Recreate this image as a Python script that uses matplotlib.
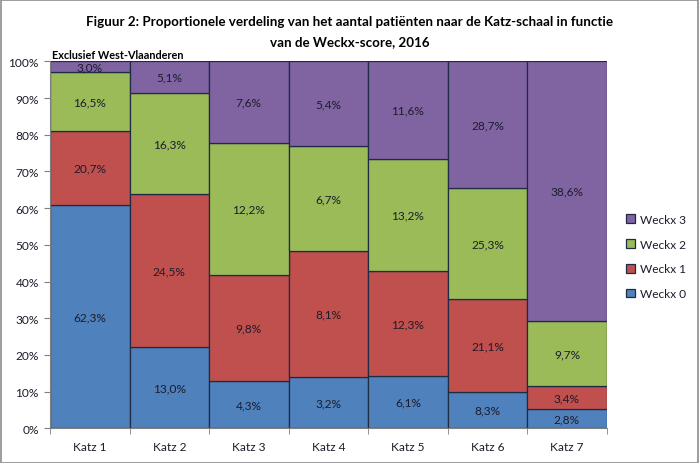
import matplotlib
matplotlib.use("Agg")
import matplotlib.pyplot as plt
from matplotlib.patches import Rectangle
import numpy as np

categories = ["Katz 1", "Katz 2", "Katz 3", "Katz 4", "Katz 5", "Katz 6", "Katz 7"]
series_names = ["Weckx 0", "Weckx 1", "Weckx 2", "Weckx 3"]

# Bar heights (share within each Katz category, %)
weckx0_share = [60.8, 22.1, 12.8, 13.9, 14.2, 9.8, 5.2]
weckx1_share = [20.1, 41.7, 29.0, 34.3, 28.6, 25.3, 6.2]
weckx2_share = [16.1, 27.6, 35.9, 28.6, 30.5, 30.3, 17.8]
weckx3_share = [3.0, 8.6, 22.3, 23.2, 26.7, 34.6, 70.8]

# Data label values (%)
weckx0_label = [62.3, 13.0, 4.3, 3.2, 6.1, 8.3, 2.8]
weckx1_label = [20.7, 24.5, 9.8, 8.1, 12.3, 21.1, 3.4]
weckx2_label = [16.5, 16.3, 12.2, 6.7, 13.2, 25.3, 9.7]
weckx3_label = [3.0, 5.1, 7.6, 5.4, 11.6, 28.7, 38.6]

colors = ["#4F81BD", "#C0504D", "#9BBB59", "#8064A2"]
edge = "#1F2A44"
txt = "#1c1c2c"

plt.rcParams['font.family'] = ['Lato', 'DejaVu Sans']
fs = 8.6

fig = plt.figure(figsize=(6.99, 4.64), dpi=100)
ax = fig.add_axes([0.0715, 0.0748, 0.868 - 0.0715, 0.8657 - 0.0748])

shares = [weckx0_share, weckx1_share, weckx2_share, weckx3_share]
labels = [weckx0_label, weckx1_label, weckx2_label, weckx3_label]
x = np.arange(len(categories))
bottom = np.zeros(len(categories))
handles = []
for name, sh, lab, c in zip(series_names, shares, labels, colors):
    sh = np.array(sh)
    b = ax.bar(x, sh, 1.0, bottom=bottom, color=c, edgecolor=edge, linewidth=0.9, label=name)
    handles.append(b)
    for xi, bi, hi, li in zip(x, bottom, sh, lab):
        ax.text(xi, bi + hi / 2, f"{li:.1f}%".replace(".", ","), ha="center", va="center",
                fontsize=fs, color=txt)
    bottom = bottom + sh

ax.set_xlim(-0.5, len(categories) - 0.5)
ax.set_ylim(0, 100)
ax.set_yticks(np.arange(0, 101, 10))
ax.set_yticklabels([f"{v}%" for v in range(0, 101, 10)], fontsize=fs, color=txt)
ax.set_xticks(x)
ax.set_xticklabels(categories, fontsize=fs, color=txt)
ax.tick_params(axis="x", length=0, pad=9)
ax.set_xticks(np.arange(-0.5, len(categories), 1.0), minor=True)
ax.tick_params(axis="x", which="minor", length=4, color="#808080")
ax.tick_params(axis="y", length=4, color="#808080", pad=4)
for s in ["top", "right"]:
    ax.spines[s].set_visible(False)
for s in ["left", "bottom"]:
    ax.spines[s].set_color("#808080")

leg = fig.legend(handles[::-1], series_names[::-1], loc="upper left",
                 bbox_to_anchor=(0.88, 0.56), frameon=False, fontsize=fs,
                 handlelength=0.75, handleheight=0.75, handletextpad=0.4, labelspacing=1.15)
for t in leg.get_texts():
    t.set_color(txt)

fig.text(0.5, 0.952, "Figuur 2: Proportionele verdeling van het aantal patiënten naar de Katz-schaal in functie",
         ha="center", va="center", fontsize=9.6, fontweight="bold")
fig.text(0.5, 0.909, "van de Weckx-score, 2016", ha="center", va="center", fontsize=9.6, fontweight="bold")
fig.text(0.074, 0.88, "Exclusief West-Vlaanderen", ha="left", va="center", fontsize=7.8, fontweight="bold")

fig.add_artist(Rectangle((0.001, 0.001), 0.997, 0.997, transform=fig.transFigure,
                         fill=False, edgecolor="#8c8c8c", linewidth=1.2))

fig.savefig("out.png", dpi=100)
